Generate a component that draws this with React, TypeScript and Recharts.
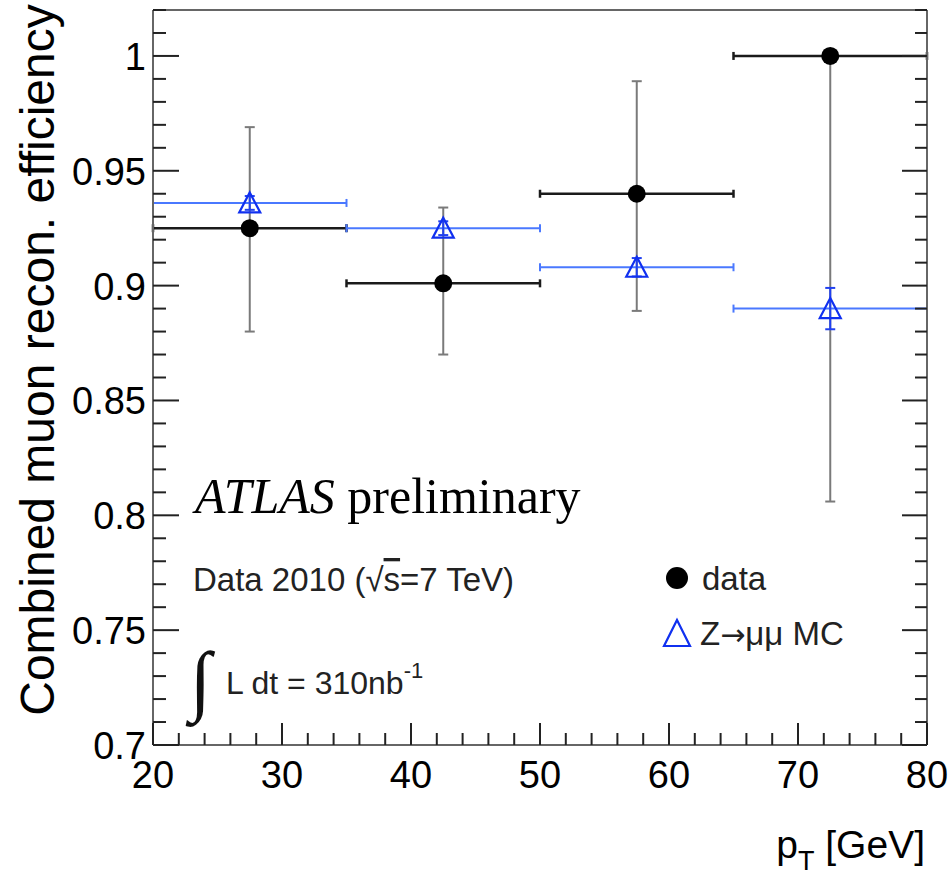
import { ScatterChart, Scatter, XAxis, YAxis, ErrorBar } from "recharts";

// bins in pT [GeV]
const binLow = [20, 35, 50, 65];
const binHigh = [35, 50, 65, 80];

// data 2010
const dataEff = [0.925, 0.901, 0.94, 1.0];
const dataErrDown = [0.045, 0.031, 0.051, 0.194];
const dataErrUp = [0.044, 0.033, 0.049, 0.0];

// Z->mumu MC
const mcEff = [0.936, 0.925, 0.908, 0.89];
const mcErr = [0.003, 0.003, 0.004, 0.009];

const xMajor = [20, 30, 40, 50, 60, 70, 80];
const yMajor = [0.7, 0.75, 0.8, 0.85, 0.9, 0.95, 1];
const yLabels = ["0.7", "0.75", "0.8", "0.85", "0.9", "0.95", "1"];

const xTicks: number[] = [];
for (let v = 20; v <= 80; v += 2) xTicks.push(v);
const yTicks: number[] = [];
for (let k = 70; k <= 102; k++) yTicks.push(k / 100);

const dataPoints = binLow.map((lo, i) => {
  const half = (binHigh[i] - lo) / 2;
  return {
    pt: lo + half,
    eff: dataEff[i],
    xErr: [half, half],
    yErr: [dataErrDown[i], dataErrUp[i]],
  };
});

const mcPoints = binLow.map((lo, i) => {
  const half = (binHigh[i] - lo) / 2;
  return {
    pt: lo + half,
    eff: mcEff[i],
    xErr: [half, half],
    yErr: [mcErr[i], mcErr[i]],
  };
});

const SANS = "'Liberation Sans', Arial, Helvetica, sans-serif";
const SERIF = "'Liberation Serif', 'Times New Roman', serif";
const TICK = "#222";
const FRAME = "#666";

const isMajorY = (v: number) => Math.round(v * 100) % 5 === 0;
const isMajorX = (v: number) => Math.round(v) % 10 === 0;

const LeftTick = (p: any) => {
  const v = p.payload.value;
  const major = isMajorY(v);
  const idx = yMajor.findIndex((m) => Math.abs(m - v) < 1e-6);
  return (
    <g>
      <line x1={p.x} x2={p.x + (major ? 26 : 13)} y1={p.y} y2={p.y} stroke={TICK} strokeWidth={2} />
      {idx >= 0 && (
        <text x={p.x - 7} y={p.y + 14} textAnchor="end" fontSize={38} fontFamily={SANS} fill="#000">
          {yLabels[idx]}
        </text>
      )}
    </g>
  );
};

const RightTick = (p: any) => {
  const major = isMajorY(p.payload.value);
  return <line x1={p.x} x2={p.x - (major ? 25 : 12)} y1={p.y} y2={p.y} stroke={TICK} strokeWidth={2} />;
};

const BottomTick = (p: any) => {
  const v = p.payload.value;
  const major = isMajorX(v);
  return (
    <g>
      <line x1={p.x} x2={p.x} y1={p.y} y2={p.y - (major ? 22 : 12)} stroke={TICK} strokeWidth={2} />
      {xMajor.includes(v) && (
        <text x={p.x} y={p.y + 43} textAnchor="middle" fontSize={38} fontFamily={SANS} fill="#000">
          {String(v)}
        </text>
      )}
    </g>
  );
};

const TopTick = (p: any) => {
  const major = isMajorX(p.payload.value);
  return <line x1={p.x} x2={p.x} y1={p.y} y2={p.y + (major ? 23 : 13)} stroke={TICK} strokeWidth={2} />;
};

const DataDot = (p: any) => <circle cx={p.cx} cy={p.cy} r={9} fill="#000" />;
const McTriangle = (p: any) => (
  <path
    d={`M${p.cx},${p.cy - 10.5} L${p.cx + 10.5},${p.cy + 9.5} L${p.cx - 10.5},${p.cy + 9.5} Z`}
    fill="none"
    stroke="#1030f0"
    strokeWidth={2.2}
  />
);

export default function App() {
  return (
    <div style={{ position: "absolute", left: 0, top: 0, width: 952, height: 880, background: "#fff" }}>
      <ScatterChart width={952} height={880} margin={{ top: 0, right: 0, bottom: 0, left: 0 }}>
        <XAxis
          dataKey="pt"
          type="number"
          domain={[20, 80]}
          allowDataOverflow
          ticks={xTicks}
          interval={0}
          height={135}
          tickSize={0}
          tickMargin={0}
          tickLine={false}
          axisLine={{ stroke: FRAME, strokeWidth: 2 }}
          tick={<BottomTick />}
        />
        <XAxis
          xAxisId="t"
          orientation="top"
          type="number"
          domain={[20, 80]}
          allowDataOverflow
          ticks={xTicks}
          interval={0}
          height={10}
          tickSize={0}
          tickMargin={0}
          tickLine={false}
          axisLine={{ stroke: FRAME, strokeWidth: 2 }}
          tick={<TopTick />}
        />
        <YAxis
          dataKey="eff"
          type="number"
          domain={[0.7, 1.02]}
          allowDataOverflow
          ticks={yTicks}
          interval={0}
          width={153}
          tickSize={0}
          tickMargin={0}
          tickLine={false}
          axisLine={{ stroke: FRAME, strokeWidth: 2 }}
          tick={<LeftTick />}
        />
        <YAxis
          yAxisId="r"
          orientation="right"
          type="number"
          domain={[0.7, 1.02]}
          allowDataOverflow
          ticks={yTicks}
          interval={0}
          width={25}
          tickSize={0}
          tickMargin={0}
          tickLine={false}
          axisLine={{ stroke: FRAME, strokeWidth: 2 }}
          tick={<RightTick />}
        />
        <Scatter data={dataPoints} isAnimationActive={false} shape={<DataDot />}>
          <ErrorBar dataKey="xErr" direction="x" width={4} stroke="#1a1a1a" strokeWidth={2.5} />
          <ErrorBar dataKey="yErr" direction="y" width={5} stroke="#7a7a7a" strokeWidth={2} />
        </Scatter>
        <Scatter data={mcPoints} isAnimationActive={false} shape={<McTriangle />}>
          <ErrorBar dataKey="xErr" direction="x" width={4} stroke="#4a78ff" strokeWidth={2} />
          <ErrorBar dataKey="yErr" direction="y" width={5} stroke="#2040f0" strokeWidth={2} />
        </Scatter>
      </ScatterChart>
      <svg width={952} height={880} style={{ position: "absolute", left: 0, top: 0, pointerEvents: "none" }}>
        <text transform="translate(54,360) rotate(-90)" textAnchor="middle" fontSize={48} fontFamily={SANS} fill="#000">
          Combined muon recon. efficiency
        </text>
        <text x={925} y={858} textAnchor="end" fontSize={39} fontFamily={SANS} fill="#000">
          p<tspan fontSize={27} dy={12}>T</tspan>
          <tspan dy={-12}> [GeV]</tspan>
        </text>
        <text x={195} y={513} fontSize={50} fontFamily={SERIF} fill="#000">
          <tspan fontStyle="italic">ATLAS</tspan> preliminary
        </text>
        <text x={193} y={591} fontSize={33} fontFamily={SANS} fill="#222">
          Data 2010 (√<tspan style={{ textDecoration: "overline" }}>s</tspan>=7 TeV)
        </text>
        <text x={190} y={706} fontSize={78} fontFamily={SERIF} fill="#111">
          ∫
        </text>
        <text x={226} y={694} fontSize={32} fontFamily={SANS} fill="#222">
          L dt = 310nb<tspan fontSize={22} dy={-16}>-1</tspan>
        </text>
        <circle cx={677} cy={578} r={11} fill="#000" />
        <text x={702} y={590} fontSize={33} fontFamily={SANS} fill="#222">
          data
        </text>
        <path d="M677,620 L690,646 L664,646 Z" fill="none" stroke="#1030f0" strokeWidth={2.2} />
        <text x={700} y={645} fontSize={33} fontFamily={SANS} fill="#222">
          Z<tspan fontFamily="'DejaVu Sans', sans-serif" fontSize={30}>→</tspan>μμ MC
        </text>
      </svg>
    </div>
  );
}
